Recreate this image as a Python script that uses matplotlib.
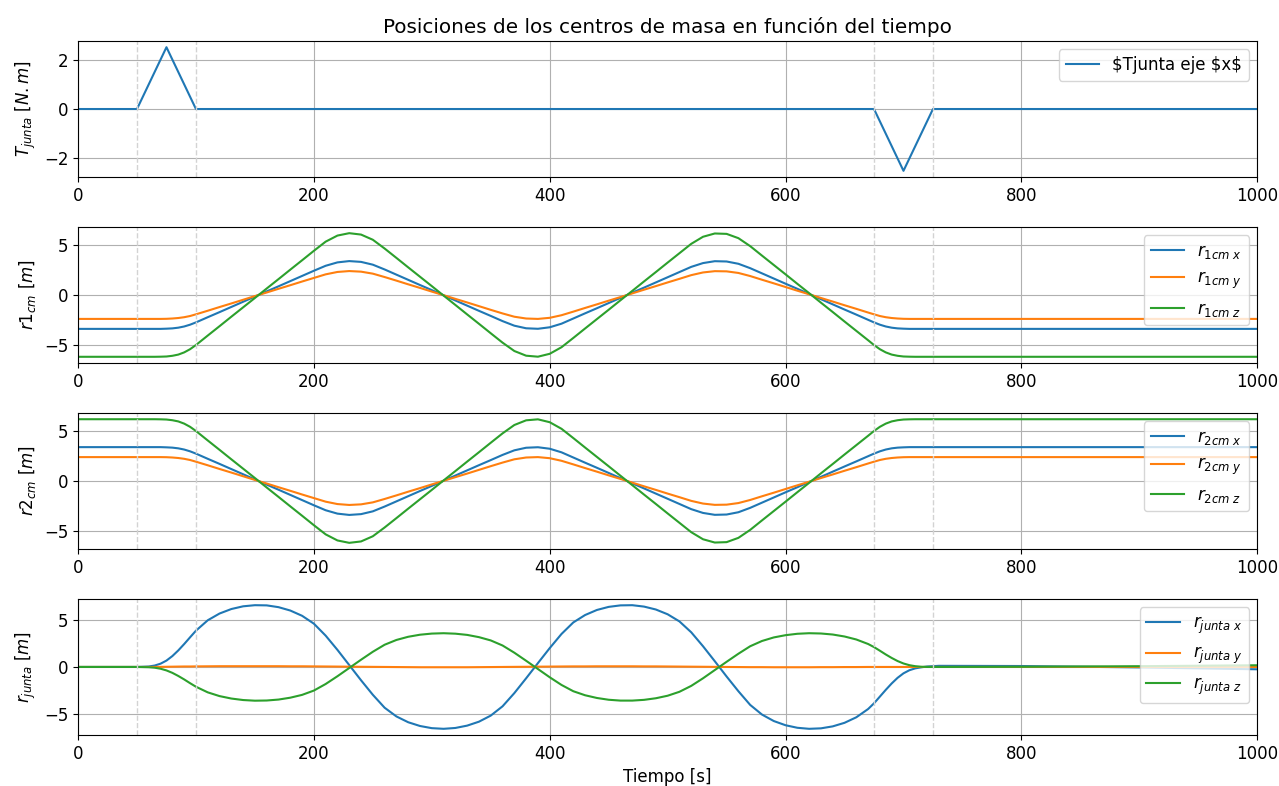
import matplotlib
matplotlib.use("Agg")
import matplotlib.pyplot as plt

plt.rcParams["font.size"] = 12

# torque pulse on the joint
t_torque = [0, 50, 75, 100, 675, 700, 725, 1000]
torque = [0, 0, 2.5, 0, 0, -2.5, 0, 0]

# time samples for the positions (start / middle / end)
tiempo = [0, 50, 60, 65, 70, 75, 80, 85, 90, 95, 100,
          110, 120, 130, 140, 150, 160, 170, 180, 190, 200, 210, 220, 230, 240, 250,
          260, 270, 280, 290, 300, 310, 320, 330, 340, 350, 360, 370, 380, 390, 400,
          410, 420, 430, 440, 450, 460, 470, 480, 490, 500, 510, 520, 530, 540, 550,
          560, 570, 580, 590, 600, 610, 620, 630, 640, 650, 660, 670,
          675, 680, 685, 690, 695, 700, 705, 710, 715, 720, 730, 800, 900, 1000]

# center of mass, body 1
r1_x = [-3.40, -3.40, -3.40, -3.40, -3.40, -3.38, -3.35, -3.28, -3.16, -2.98, -2.75,
        -2.23, -1.72, -1.20, -0.68, -0.16, 0.36, 0.87, 1.39, 1.91, 2.43, 2.93, 3.27, 3.40,
        3.32, 3.04, 2.56, 2.04, 1.52, 1.00, 0.49, -0.03, -0.55, -1.07, -1.59, -2.10, -2.62,
        -3.08, -3.34, -3.39, -3.24, -2.88, -2.36, -1.84, -1.33, -0.81, -0.29, 0.23, 0.74,
        1.26, 1.78, 2.30, 2.82, 3.20, 3.39, 3.36, 3.13, 2.69, 2.17, 1.65, 1.13, 0.62, 0.10,
        -0.42, -0.94, -1.46, -1.97, -2.49,
        -2.75, -2.98, -3.16, -3.28, -3.35, -3.38, -3.40, -3.40, -3.40, -3.40, -3.40, -3.40,
        -3.40, -3.40]
r1_y = [-2.40, -2.40, -2.40, -2.40, -2.40, -2.39, -2.36, -2.31, -2.23, -2.11, -1.94,
        -1.58, -1.21, -0.85, -0.48, -0.11, 0.25, 0.62, 0.98, 1.35, 1.71, 2.07, 2.31, 2.40,
        2.34, 2.14, 1.80, 1.44, 1.07, 0.71, 0.34, -0.02, -0.39, -0.75, -1.12, -1.49, -1.85,
        -2.18, -2.36, -2.40, -2.29, -2.03, -1.67, -1.30, -0.94, -0.57, -0.21, 0.16, 0.53,
        0.89, 1.26, 1.62, 1.99, 2.26, 2.39, 2.37, 2.21, 1.90, 1.53, 1.17, 0.80, 0.43, 0.07,
        -0.30, -0.66, -1.03, -1.39, -1.76,
        -1.94, -2.11, -2.23, -2.31, -2.36, -2.39, -2.40, -2.40, -2.40, -2.40, -2.40, -2.40,
        -2.40, -2.40]
r1_z = [-6.20, -6.20, -6.20, -6.20, -6.19, -6.17, -6.10, -5.98, -5.76, -5.44, -5.02,
        -4.07, -3.13, -2.18, -1.24, -0.30, 0.65, 1.59, 2.54, 3.48, 4.43, 5.35, 5.96, 6.20,
        6.06, 5.54, 4.66, 3.72, 2.77, 1.83, 0.89, -0.06, -1.00, -1.95, -2.89, -3.84, -4.78,
        -5.62, -6.09, -6.19, -5.90, -5.24, -4.31, -3.36, -2.42, -1.48, -0.53, 0.41, 1.36,
        2.30, 3.25, 4.19, 5.13, 5.84, 6.17, 6.13, 5.70, 4.90, 3.95, 3.01, 2.07, 1.12, 0.18,
        -0.77, -1.71, -2.66, -3.60, -4.54,
        -5.02, -5.44, -5.76, -5.98, -6.10, -6.17, -6.19, -6.20, -6.20, -6.20, -6.20, -6.20,
        -6.20, -6.20]

# center of mass, body 2
r2_x = [3.40, 3.40, 3.40, 3.40, 3.40, 3.38, 3.35, 3.28, 3.16, 2.98, 2.75,
        2.23, 1.72, 1.20, 0.68, 0.16, -0.36, -0.87, -1.39, -1.91, -2.43, -2.93, -3.27, -3.40,
        -3.32, -3.04, -2.56, -2.04, -1.52, -1.00, -0.49, 0.03, 0.55, 1.07, 1.59, 2.10, 2.62,
        3.08, 3.34, 3.39, 3.24, 2.88, 2.36, 1.84, 1.33, 0.81, 0.29, -0.23, -0.74,
        -1.26, -1.78, -2.30, -2.82, -3.20, -3.39, -3.36, -3.13, -2.69, -2.17, -1.65, -1.13,
        -0.62, -0.10, 0.42, 0.94, 1.46, 1.97, 2.49,
        2.75, 2.98, 3.16, 3.28, 3.35, 3.38, 3.40, 3.40, 3.40, 3.40, 3.40, 3.40,
        3.40, 3.40]
r2_y = [2.40, 2.40, 2.40, 2.40, 2.40, 2.39, 2.36, 2.31, 2.23, 2.11, 1.94,
        1.58, 1.21, 0.85, 0.48, 0.11, -0.25, -0.62, -0.98, -1.35, -1.71, -2.07, -2.31, -2.40,
        -2.34, -2.14, -1.80, -1.44, -1.07, -0.71, -0.34, 0.02, 0.39, 0.75, 1.12, 1.49, 1.85,
        2.18, 2.36, 2.40, 2.29, 2.03, 1.67, 1.30, 0.94, 0.57, 0.21, -0.16, -0.53,
        -0.89, -1.26, -1.62, -1.99, -2.26, -2.39, -2.37, -2.21, -1.90, -1.53, -1.17, -0.80,
        -0.43, -0.07, 0.30, 0.66, 1.03, 1.39, 1.76,
        1.94, 2.11, 2.23, 2.31, 2.36, 2.39, 2.40, 2.40, 2.40, 2.40, 2.40, 2.40,
        2.40, 2.40]
r2_z = [6.20, 6.20, 6.20, 6.20, 6.19, 6.17, 6.10, 5.98, 5.76, 5.44, 5.02,
        4.07, 3.13, 2.18, 1.24, 0.30, -0.65, -1.59, -2.54, -3.48, -4.43, -5.35, -5.96, -6.20,
        -6.06, -5.54, -4.66, -3.72, -2.77, -1.83, -0.89, 0.06, 1.00, 1.95, 2.89, 3.84, 4.78,
        5.62, 6.09, 6.19, 5.90, 5.24, 4.31, 3.36, 2.42, 1.48, 0.53, -0.41, -1.36,
        -2.30, -3.25, -4.19, -5.13, -5.84, -6.17, -6.13, -5.70, -4.90, -3.95, -3.01, -2.07,
        -1.12, -0.18, 0.77, 1.71, 2.66, 3.60, 4.54,
        5.02, 5.44, 5.76, 5.98, 6.10, 6.17, 6.19, 6.20, 6.20, 6.20, 6.20, 6.20,
        6.20, 6.20]

# joint position
rj_x = [0.00, 0.00, 0.05, 0.15, 0.35, 0.68, 1.16, 1.76, 2.44, 3.16, 3.87,
        4.98, 5.70, 6.18, 6.47, 6.59, 6.57, 6.38, 6.02, 5.46, 4.62, 3.34, 1.82, 0.20,
        -1.42, -2.97, -4.35, -5.28, -5.90, -6.30, -6.53, -6.60, -6.51, -6.26, -5.84, -5.19,
        -4.20, -2.79, -1.21, 0.41, 2.01, 3.52, 4.75, 5.54, 6.08, 6.41, 6.57, 6.59, 6.44,
        6.13, 5.62, 4.86, 3.70, 2.21, 0.61, -1.02, -2.59, -4.05, -5.08, -5.77, -6.22,
        -6.49, -6.60, -6.55, -6.34, -5.96, -5.37, -4.49,
        -3.88, -3.16, -2.44, -1.76, -1.16, -0.68, -0.35, -0.15, -0.04, 0.05, 0.12, 0.10,
        -0.05, -0.25]
rj_y = [0.00, 0.00, 0.00, 0.00, 0.01, 0.02, 0.03, 0.04, 0.05, 0.05, 0.06,
        0.07, 0.08, 0.08, 0.08, 0.08, 0.08, 0.08, 0.07, 0.07, 0.06, 0.05, 0.04, 0.03,
        0.02, 0.01, 0.00, -0.01, -0.02, -0.03, -0.03, -0.03, -0.03, -0.03, -0.02, -0.01,
        0.00, 0.01, 0.02, 0.03, 0.04, 0.05, 0.06, 0.06, 0.07, 0.07, 0.07, 0.07, 0.06,
        0.06, 0.05, 0.04, 0.03, 0.02, 0.01, 0.00, -0.01, -0.02, -0.02, -0.03, -0.03,
        -0.03, -0.03, -0.02, -0.02, -0.01, -0.01, 0.00,
        0.00, 0.00, 0.00, 0.00, 0.00, 0.00, 0.00, 0.00, 0.00, 0.00, 0.00, 0.00,
        0.00, 0.00]
rj_z = [0.00, 0.00, -0.03, -0.08, -0.19, -0.37, -0.63, -0.96, -1.33, -1.73, -2.11,
        -2.71, -3.11, -3.37, -3.53, -3.60, -3.58, -3.48, -3.28, -2.98, -2.52, -1.82, -0.99,
        -0.11, 0.77, 1.62, 2.37, 2.88, 3.22, 3.44, 3.56, 3.60, 3.55, 3.42, 3.18, 2.83,
        2.29, 1.52, 0.66, -0.22, -1.10, -1.92, -2.59, -3.02, -3.31, -3.50, -3.59, -3.59,
        -3.51, -3.34, -3.07, -2.65, -2.02, -1.21, -0.33, 0.55, 1.41, 2.21, 2.77, 3.15,
        3.39, 3.54, 3.60, 3.57, 3.46, 3.25, 2.93, 2.45,
        2.12, 1.73, 1.33, 0.96, 0.63, 0.37, 0.19, 0.08, 0.02, 0.00, 0.00, 0.02,
        0.08, 0.18]

# start / end of the torque pulses
t_marcas = [50, 100, 675, 725]

fig = plt.figure(figsize=(12.79, 7.86), dpi=100)
left, width, height = 0.061, 0.922, 0.173
bottoms = [0.7748, 0.5382, 0.3015, 0.0649]
axes = [fig.add_axes([left, b, width, height]) for b in bottoms]

ax = axes[0]
ax.plot(t_torque, torque, label="$Tjunta eje $x$")
ax.set_ylabel("$T_{junta}$ [$N.m$]")
ax.set_title("Posiciones de los centros de masa en función del tiempo")
ax.legend(loc="upper right")

ax = axes[1]
ax.plot(tiempo, r1_x, label=r"$r_{1cm\ x}$")
ax.plot(tiempo, r1_y, label=r"$r_{1cm\ y}$")
ax.plot(tiempo, r1_z, label=r"$r_{1cm\ z}$")
ax.set_ylabel("$r1_{cm}$ [$m$]")
ax.legend(loc="upper right")

ax = axes[2]
ax.plot(tiempo, r2_x, label=r"$r_{2cm\ x}$")
ax.plot(tiempo, r2_y, label=r"$r_{2cm\ y}$")
ax.plot(tiempo, r2_z, label=r"$r_{2cm\ z}$")
ax.set_ylabel("$r2_{cm}$ [$m$]")
ax.legend(loc="upper right")

ax = axes[3]
ax.plot(tiempo, rj_x, label=r"$r_{junta\ x}$")
ax.plot(tiempo, rj_y, label=r"$r_{junta\ y}$")
ax.plot(tiempo, rj_z, label=r"$r_{junta\ z}$")
ax.set_ylabel("$r_{junta}$ [$m$]")
ax.set_xlabel("Tiempo [s]")
ax.legend(loc="upper right")

for ax in axes:
    for tm in t_marcas:
        ax.axvline(tm, color="lightgray", linestyle="--", linewidth=1)
    ax.grid(True)
    ax.set_xlim(0, 1000)

fig.savefig("out.png", dpi=100)
